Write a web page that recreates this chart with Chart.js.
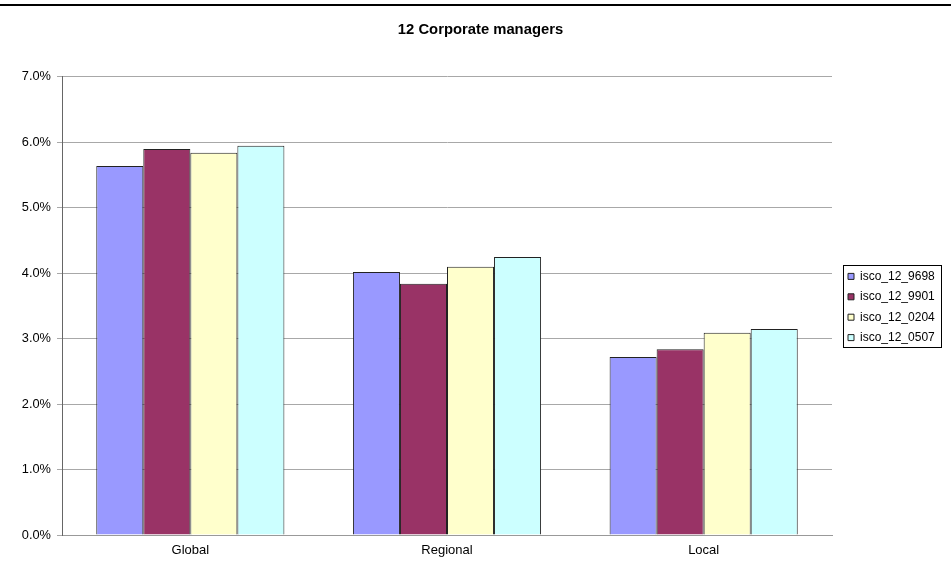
<!DOCTYPE html>
<html>
<head>
<meta charset="utf-8">
<script src="https://cdn.jsdelivr.net/npm/chart.js@4/dist/chart.umd.min.js"></script>
<style>
  html, body { margin: 0; padding: 0; background: #fff; }
  #wrap { width: 951px; height: 570px; }
</style>
</head>
<body>
<div id="wrap"><canvas id="managersChart" width="951" height="570"></canvas></div>
<script>
const regions = ["Global", "Regional", "Local"];
const isco9698 = [5.64, 4.02, 2.72];
const isco9901 = [5.90, 3.84, 2.84];
const isco0204 = [5.84, 4.10, 3.09];
const isco0507 = [5.95, 4.25, 3.15];
const yTicks = [0, 1, 2, 3, 4, 5, 6, 7];

const seriesNames = ["isco_12_9698", "isco_12_9901", "isco_12_0204", "isco_12_0507"];
const seriesColors = ["#9999ff", "#993366", "#ffffcc", "#ccffff"];
const seriesValues = [isco9698, isco9901, isco0204, isco0507];

const FONT = "Liberation Sans, Arial, sans-serif";

// fixed legend column, a rule across the top, a frame round the legend entries
const framePlugin = {
    id: "frame",
    afterInit(chart) {
        const legend = chart.legend;
        const fit = legend.fit.bind(legend);
        legend.fit = function () {
            fit();
            this.width = 119;
        };
    },
    afterLayout(chart) {
        const legend = chart.legend;
        legend.left += 7.6;
        legend.top += 22;
        legend.bottom += 22;
    },
    afterDraw(chart) {
        const c = chart.ctx;
        c.save();
        c.fillStyle = "#000";
        c.fillRect(0, 4, chart.width, 2);

        const boxes = chart.legend.legendHitBoxes;
        if (boxes && boxes.length) {
            const left = Math.min(...boxes.map(b => b.left));
            const top = Math.min(...boxes.map(b => b.top));
            const right = Math.max(...boxes.map(b => b.left + b.width));
            const bottom = Math.max(...boxes.map(b => b.top + b.height));
            c.strokeStyle = "#000";
            c.lineWidth = 1;
            c.strokeRect(Math.round(left - 5) + 0.5, Math.round(top - 5) + 0.5,
                Math.round(right - left + 11), Math.round(bottom - top + 9));
        }
        c.restore();
    }
};

new Chart(document.getElementById("managersChart"), {
    type: "bar",
    data: {
        labels: regions,
        datasets: seriesNames.map((name, i) => ({
            label: name,
            data: seriesValues[i],
            backgroundColor: seriesColors[i],
            borderColor: "#222",
            borderWidth: 1,
            categoryPercentage: 0.733,
            barPercentage: 1
        }))
    },
    options: {
        responsive: false,
        animation: false,
        layout: {
            padding: { left: 10, right: 0, top: 0, bottom: 0 }
        },
        plugins: {
            title: {
                display: true,
                text: "12 Corporate managers",
                color: "#000",
                font: { family: FONT, size: 14.8, weight: "bold" },
                padding: { top: 21.5, bottom: 37.7 }
            },
            legend: {
                position: "right",
                labels: {
                    color: "#000",
                    boxWidth: 6,
                    boxHeight: 6,
                    padding: 8.4,
                    font: { family: FONT, size: 12 }
                }
            },
            tooltip: { enabled: false }
        },
        scales: {
            x: {
                grid: { display: false, drawTicks: false },
                border: { display: true, color: "#999" },
                ticks: {
                    color: "#000",
                    padding: 8,
                    font: { family: FONT, size: 13 }
                },
                afterFit(scale) { scale.height = 35; }
            },
            y: {
                min: 0,
                max: 7,
                afterBuildTicks(scale) {
                    scale.ticks = yTicks.map(v => ({ value: v }));
                },
                grid: { color: "#a8a8a8", tickLength: 5 },
                border: { display: true, color: "#666" },
                ticks: {
                    color: "#000",
                    padding: 6,
                    font: { family: FONT, size: 12.8 },
                    callback: v => v.toFixed(1) + "%"
                },
                afterFit(scale) { scale.width = 52; }
            }
        }
    },
    plugins: [framePlugin]
});
</script>
</body>
</html>
